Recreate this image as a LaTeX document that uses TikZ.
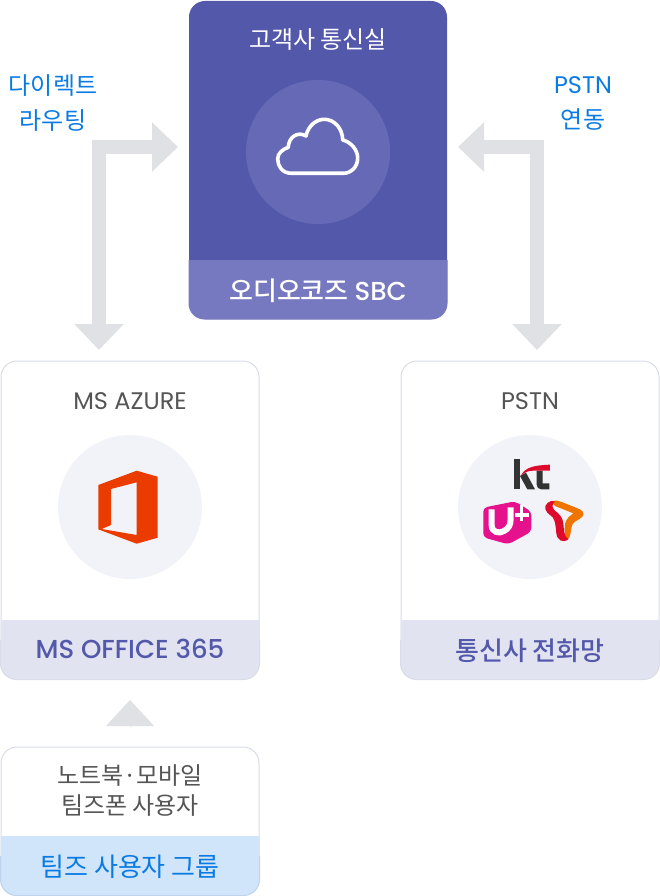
\documentclass[tikz,border=0pt]{standalone}
\usepackage{fontspec}
\setmainfont{Poppins}
\newfontfamily\krfont{Noto Sans CJK KR}
\newfontfamily\medfont{Poppins Medium}
\newfontfamily\krmedfont{Noto Sans CJK KR Medium}
\usetikzlibrary{arrows.meta, positioning}
\definecolor{indigo}{HTML}{5358AB}
\definecolor{indigostrip}{HTML}{7679BF}
\definecolor{indigocircle}{HTML}{666AB6}
\definecolor{paleline}{HTML}{DADCE8}
\definecolor{palestrip}{HTML}{E1E3F1}
\definecolor{palecircle}{HTML}{F2F3F9}
\definecolor{routegrey}{HTML}{E0E1E5}
\definecolor{labelgrey}{HTML}{555555}
\definecolor{teamsblue}{HTML}{0B7BE3}
\definecolor{bluestrip}{HTML}{D0E4FA}
\definecolor{blueline}{HTML}{BFD3EC}
\definecolor{officered}{HTML}{EB3C00}
\definecolor{lgpink}{HTML}{E6118C}
\definecolor{skorange}{HTML}{F07400}
\definecolor{skred}{HTML}{DE0A2B}

\begin{document}
\begin{tikzpicture}[
    x=1pt, y=-1pt,
    panel/.style={rectangle, rounded corners=16pt, draw=paleline, line width=1pt, fill=white, minimum width=258pt, inner sep=0pt},
    disc/.style={circle, fill=palecircle, minimum size=144pt, inner sep=0pt},
    caption/.style={align=center, text=labelgrey, font=\fontsize{24}{30}\selectfont},
    bluetext/.style={align=center, text=teamsblue, font=\fontsize{24}{35}\selectfont},
    striptext/.style={align=center, font=\fontsize{26}{30}\selectfont},
    route/.style={draw=routegrey, line width=14pt, {Triangle[width=48pt,length=26pt]}-{Triangle[width=48pt,length=26pt]}}
]
    \useasboundingbox (0,0) rectangle (660,896);

    % boxes
    \node[panel, draw=none, fill=indigo, minimum height=318pt] (sbc) at (318,160) {};
    \node[panel, minimum height=318pt] (azure) at (130,520) {};
    \node[panel, minimum height=318pt] (pstn) at (530,520) {};
    \node[panel, minimum height=148pt] (users) at (130,821) {};

    % strips at the bottom of the boxes
    \fill[indigostrip, rounded corners=16pt] (sbc.west |- 0,260) [sharp corners] -- (sbc.east |- 0,260) [rounded corners=16pt] -- (sbc.south east) -- (sbc.south west) [sharp corners] -- cycle;
    \fill[palestrip, rounded corners=16pt] (azure.west |- 0,620) [sharp corners] -- (azure.east |- 0,620) [rounded corners=16pt] -- (azure.south east) -- (azure.south west) [sharp corners] -- cycle;
    \fill[palestrip, rounded corners=16pt] (pstn.west |- 0,620) [sharp corners] -- (pstn.east |- 0,620) [rounded corners=16pt] -- (pstn.south east) -- (pstn.south west) [sharp corners] -- cycle;
    \fill[bluestrip, rounded corners=16pt] (users.west |- 0,836) [sharp corners] -- (users.east |- 0,836) [rounded corners=16pt] -- (users.south east) -- (users.south west) [sharp corners] -- cycle;
    \draw[paleline, line width=1pt, rounded corners=16pt] (azure.west |- 0,640) -- (azure.south west) -- (azure.south east) -- (azure.east |- 0,640);
    \draw[paleline, line width=1pt, rounded corners=16pt] (pstn.west |- 0,640) -- (pstn.south west) -- (pstn.south east) -- (pstn.east |- 0,640);
    \draw[blueline, line width=1pt, rounded corners=16pt] (users.west |- 0,856) -- (users.south west) -- (users.south east) -- (users.east |- 0,856);

    \node[disc, fill=indigocircle] (sbcdisc) at (318,152) {};
    \node[disc] (azuredisc) at (130,507) {};
    \node[disc] (pstndisc) at (530,507) {};

    % texts
    \node[caption, text=white] (sbctitle) at (318,40) {\krfont 고객사 통신실};
    \node[striptext, text=white] (sbcname) at (318,291) {\krmedfont 오디오코즈 \medfont SBC};
    \node[caption] (azuretitle) at (130,401) {MS AZURE};
    \node[striptext, text=indigo] (azurename) at (130,649) {\medfont MS OFFICE 365};
    \node[caption] (pstntitle) at (530,401) {PSTN};
    \node[striptext, text=indigo] (pstnname) at (530,651) {\krmedfont 통신사 전화망};
    \node[caption] (userstitle) at (130,791) {\krfont 노트북·모바일\\\krfont 팀즈폰 사용자};
    \node[striptext, text=teamsblue] (usersname) at (130,867) {\krfont 팀즈 사용자 그룹};
    \node[bluetext] (directlabel) at (53,103) {\krfont 다이렉트\\\krfont 라우팅};
    \node[bluetext] (pstnlabel) at (583,103) {PSTN\\\krfont 연동};

    % connectors
    \coordinate (azuretip) at (99,350);
    \coordinate (sbcleft) at (178,147);
    \coordinate (pstntip) at (537,350);
    \coordinate (sbcright) at (458,147);
    \coordinate (usersbase) at (130,726);
    \coordinate (officetip) at (130,700);
    \draw[route] (azuretip) |- (sbcleft);
    \draw[route] (pstntip) |- (sbcright);
    \draw[draw=routegrey, line width=1pt, -{Triangle[width=48pt,length=26pt]}] (usersbase) -- (officetip);

    % cloud
    \draw[white, line width=3.6pt, line join=round] (291.7,173.3) .. controls (282,173.3) and (277.7,166) .. (277.7,159) .. controls (277.7,153.5) and (282,149.5) .. (288.3,147.3) .. controls (288.5,137) and (298,131) .. (306,136) .. controls (308,126) and (316,119.3) .. (324.3,119.3) .. controls (334,119.3) and (342.5,128) .. (342.7,140) .. controls (351,142) and (357.7,150) .. (357.7,158) .. controls (357.7,167) and (351,173.3) .. (343.3,173.3) -- cycle;

    % office logo
    \fill[officered, even odd rule] (98.3,485) -- (136.7,470.7) -- (157.7,476.7) -- (157.7,537.7) -- (136.7,543.7) -- (98.3,529.3) -- cycle (111,489) -- (136.7,482.3) -- (136.7,535) -- (101.7,529) -- (111,525) -- cycle;

    % carrier logos, in crop coordinates
    \begin{scope}[shift={(440,430)}, x=0.3333pt, y=-0.3333pt]
        % kt
        \fill[black!80] (222,88) -- (240,88) -- (240,178) -- (222,178) -- cycle;
        \fill[black!80] (240,138) -- (258,128) -- (285,178) -- (262,178) -- cycle;
        \fill[black!80] (290,122) -- (308,122) -- (308,160) -- (328,160) -- (328,178) -- (304,178) .. controls (295,178) and (290,172) .. (290,164) -- cycle;
        \fill[skred] (242,138) .. controls (255,112) and (280,106) .. (330,104) -- (330,122) -- (280,122) .. controls (265,122) and (255,126) .. (242,138) -- cycle;
        % lg u+
        \fill[lgpink, rounded corners=4pt] (130,233) -- (225,214) -- (274,245) -- (274,305) -- (205,343) -- (130,322) -- cycle;
        \draw[white, line width=6pt] (155,238) -- (155,285) .. controls (155,308) and (178,312) .. (192,303) .. controls (207,295) and (212,285) .. (212,265) -- (212,232);
        \draw[white, line width=3.5pt] (245,226) -- (245,272) (225,255) -- (268,255);
        % t
        \fill[skorange] (335,213) .. controls (345,210) and (355,212) .. (365,216) -- (420,238) .. controls (435,245) and (432,260) .. (420,266) -- (405,275) .. controls (396,282) and (394,290) .. (393,300) .. controls (392,320) and (385,330) .. (378,332) .. controls (372,300) and (372,275) .. (385,262) -- (400,250) -- (345,228) -- cycle;
        \fill[skred] (335,213) .. controls (315,218) and (310,235) .. (322,248) -- (338,262) .. controls (346,272) and (347,290) .. (349,310) .. controls (352,332) and (370,340) .. (385,328) .. controls (372,320) and (372,300) .. (370,280) .. controls (368,262) and (358,252) .. (345,242) .. controls (335,234) and (335,222) .. (345,215) -- cycle;
    \end{scope}
\end{tikzpicture}
\end{document}
